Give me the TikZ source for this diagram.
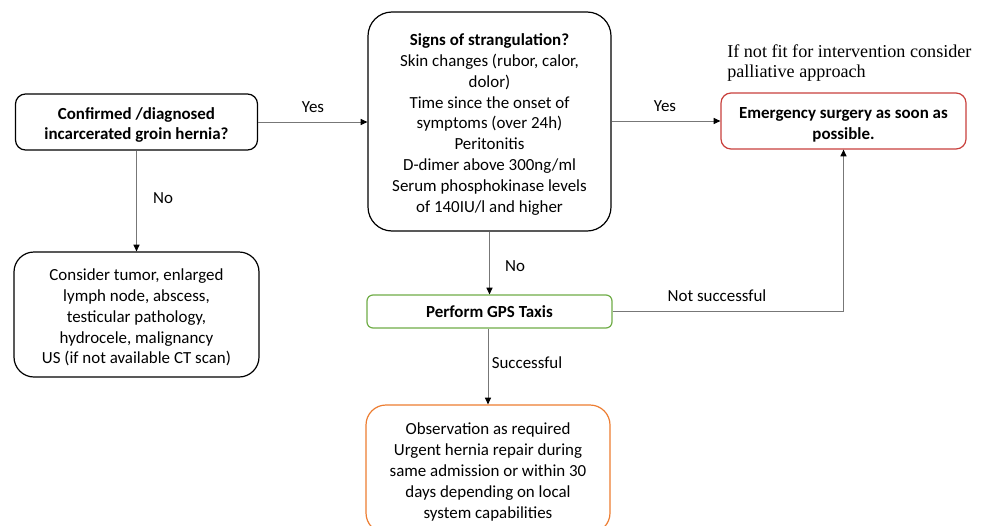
\documentclass[tikz,border=0pt]{standalone}
\usepackage{fontspec}
\setmainfont{Carlito}
\newfontfamily\notefont{Liberation Serif}
\usetikzlibrary{arrows.meta}
\definecolor{boxred}{HTML}{C9403C}
\definecolor{boxgreen}{HTML}{70AD47}
\definecolor{boxorange}{HTML}{ED7D31}
\definecolor{linegray}{HTML}{777777}
\newcommand\mytopstrut{\rule{0pt}{13.4pt}}
\tikzset{
  box/.style={draw, line width=0.9pt, align=center, inner sep=2pt,
    font=\fontsize{12.7}{15.6}\selectfont},
  conn/.style={draw=linegray, line width=0.75pt, -{Triangle[length=5pt,width=4.5pt,black]}},
  lbl/.style={font=\fontsize{12.7}{15.6}\selectfont, inner sep=1pt},
}
\begin{document}
\begin{tikzpicture}[x=0.75pt,y=-0.75pt]
\clip (0,0) rectangle (988,525);
\fill[white] (0,0) rectangle (988,525);

\node[box, rounded corners=7.5pt, minimum width=181.5pt, minimum height=42pt] (A) at (136.5,122)
  {\mytopstrut\textbf{Confirmed /diagnosed}\\\textbf{incarcerated groin hernia?}};
\node[box, rounded corners=18pt, minimum width=182.25pt, minimum height=164.25pt] (B) at (489.5,121.5)
  {\mytopstrut\textbf{Signs of strangulation?}\\Skin changes (rubor, calor,\\dolor)\\Time since the onset of\\symptoms (over 24h)\\Peritonitis\\D-dimer above 300ng/ml\\Serum phosphokinase levels\\of 140IU/l and higher};
\node[box, draw=boxred, rounded corners=7.5pt, minimum width=183.75pt, minimum height=42pt] (C) at (843.5,121)
  {\mytopstrut\textbf{Emergency surgery as soon as}\\\textbf{possible.}};
\node[box, rounded corners=15pt, minimum width=183.75pt, minimum height=93.75pt] (D) at (136.5,314.5)
  {\mytopstrut Consider tumor, enlarged\\lymph node, abscess,\\testicular pathology,\\hydrocele, malignancy\\US (if not available CT scan)};
\node[box, draw=boxgreen, rounded corners=4.5pt, minimum width=183.75pt, minimum height=24.75pt] (E) at (489.5,311.5)
  {\textbf{Perform GPS Taxis}};
\node[box, draw=boxorange, rounded corners=15pt, minimum width=183pt, minimum height=96pt] (F) at (488,469)
  {\mytopstrut Observation as required\\Urgent hernia repair during\\same admission or within 30\\days depending on local\\system capabilities};

\node[anchor=west, align=left, inner sep=0pt, font=\notefont\fontsize{13.6}{15.4}\selectfont] (N) at (727,63)
  {If not fit for intervention consider\\palliative approach};

\draw[conn] (A.east) -- (A.east -| B.west);
\draw[conn] (A.south) -- (D.north);
\draw[conn] (C.west -| B.east) -- (C.west);
\draw[conn] (B.south) -- (E.north);
\draw[conn] (E.east) -| (C.south);
\draw[conn] (F.north |- E.south) -- (F.north);

\node[lbl] (l1) at (313,107) {Yes};
\node[lbl] (l2) at (163,198) {No};
\node[lbl] (l3) at (665,106) {Yes};
\node[lbl] (l4) at (515,266) {No};
\node[lbl] (l5) at (717,296) {Not successful};
\node[lbl] (l6) at (527,363) {Successful};
\end{tikzpicture}
\end{document}
